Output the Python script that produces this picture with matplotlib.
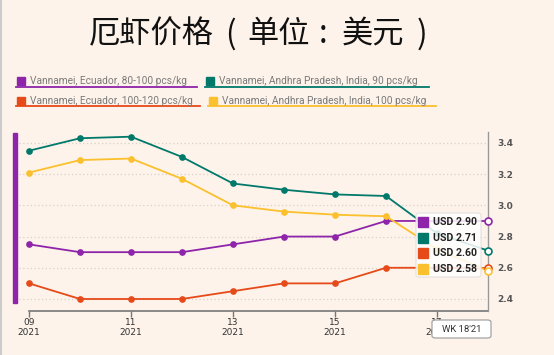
import matplotlib
matplotlib.use("Agg")
import matplotlib.pyplot as plt
from matplotlib.patches import FancyBboxPatch, Rectangle
from matplotlib.lines import Line2D

# Data (weekly prices, USD)
weeks = [9, 10, 11, 12, 13, 14, 15, 16, 17, 18]
ecuador_80_100 = [2.75, 2.70, 2.70, 2.70, 2.75, 2.80, 2.80, 2.90, 2.90, 2.90]
ecuador_100_120 = [2.50, 2.40, 2.40, 2.40, 2.45, 2.50, 2.50, 2.60, 2.60, 2.60]
india_90 = [3.35, 3.43, 3.44, 3.31, 3.14, 3.10, 3.07, 3.06, 2.82, 2.71]
india_100 = [3.21, 3.29, 3.30, 3.17, 3.00, 2.96, 2.94, 2.93, 2.72, 2.58]
labels = ["Vannamei, Ecuador, 80-100 pcs/kg",
          "Vannamei, Andhra Pradesh, India, 90 pcs/kg",
          "Vannamei, Ecuador, 100-120 pcs/kg",
          "Vannamei, Andhra Pradesh, India, 100 pcs/kg"]
series = [ecuador_80_100, india_90, ecuador_100_120, india_100]
colors = ["#8e24aa", "#00796b", "#e64a19", "#fbc02d"]
xtick_weeks = [9, 11, 13, 15, 17]
yticks = [2.4, 2.6, 2.8, 3.0, 3.2, 3.4]
# title pieces: 厄虾价格 ( 单位 : 美元 )
title_parts = ["厄虾价格", "(", "单位", ":", "美元", ")"]
hover_label = "WK 18'21"

W, H = 554, 355
bg = "#fdf3ea"


def px(x, y):
    # pixel (from top-left) -> figure fraction
    return x / W, 1 - y / H


fig = plt.figure(figsize=(W / 100, H / 100), dpi=100)
fig.patch.set_facecolor(bg)

# axes placement
ax = fig.add_axes([18.8 / W, 1 - 311 / H, (488 - 18.8) / W, (311 - 132) / H])
ax.set_facecolor(bg)
ax.set_xlim(8.8, 18)
ax.set_ylim(2.323, 3.47)

for s in ["top", "left", "bottom"]:
    ax.spines[s].set_visible(False)
ax.spines["right"].set_linestyle((0, (1, 1)))
ax.spines["right"].set_color("#999999")
ax.spines["right"].set_linewidth(1.0)

ax.yaxis.tick_right()
ax.set_yticks(yticks)
ax.set_yticklabels([f"{v:.1f}" for v in yticks])
ax.tick_params(axis="y", length=0, pad=7, labelsize=6.5, labelcolor="#555555")
for t in ax.get_yticklabels():
    t.set_fontweight("bold")
ax.grid(axis="y", linestyle=(0, (1, 2)), color="#d9d0c8", linewidth=0.9)
ax.set_axisbelow(True)

# bottom axis line from first week to last
ax.plot([weeks[0], weeks[-1]], [2.323, 2.323], color="#777777", lw=1.2,
        clip_on=False, zorder=2)
ax.set_xticks(xtick_weeks)
ax.set_xticklabels([f"{w:02d}\n2021" for w in xtick_weeks], linespacing=1.1)
ax.tick_params(axis="x", length=4, width=1, color="#777777", pad=1,
               labelsize=6.5, labelcolor="#333333")

for vals, c in zip(series, colors):
    ax.plot(weeks[:-1], vals[:-1], color=c, lw=1.3, marker="o", ms=3.8, zorder=3)
    ax.plot(weeks[-2:], vals[-2:], color=c, lw=1.3, zorder=3)
    ax.plot(weeks[-1], vals[-1], marker="o", ms=5, mfc="white", mec=c,
            mew=1.2, zorder=6, clip_on=False)

# title, placed piece by piece to keep the wide punctuation spacing
cjk = ["Noto Sans CJK SC", "DejaVu Sans"]
for part, xpos, ha in zip(title_parts, [89, 230, 247, 323, 342, 422],
                          ["left", "center", "left", "center", "left", "center"]):
    fig.text(*px(xpos, 34), part, fontsize=22.5, ha=ha, va="center",
             family=cjk, color="#111111")

# legend
leg_pos = [(17, 81, 197), (206, 81, 429), (17, 100.5, 200), (209, 100.5, 436)]
for (lx, ly, lend), lab, c in zip(leg_pos, labels, colors):
    fig.patches.append(Rectangle(px(lx, ly + 4), 8 / W, 8 / H, color=c,
                                 transform=fig.transFigure))
    fig.text(*px(lx + 13, ly), lab, fontsize=7.3, family="Roboto",
             color="#7a7a7a", ha="left", va="center")
    fig.lines.append(Line2D([(lx - 1) / W, lend / W], [1 - (ly + 5.5) / H] * 2,
                            color=c, lw=1.3, transform=fig.transFigure))

# left purple highlight bar and border
fig.patches.append(Rectangle(px(13, 303), 3.5 / W, 170 / H, color=colors[0],
                             transform=fig.transFigure))
fig.lines.append(Line2D([0.5 / W, 0.5 / W], [0, 1], color="#cccccc", lw=1.5,
                        transform=fig.transFigure))

# hover tooltip
fig.patches.append(FancyBboxPatch(px(416, 277), 65 / W, 64 / H,
                                  boxstyle="round,pad=0,rounding_size=0.006",
                                  fc="white", ec="#dddddd", lw=0.8, alpha=0.85,
                                  transform=fig.transFigure, zorder=10))
order = sorted(range(len(series)), key=lambda i: -series[i][-1])
for k, i in enumerate(order):
    ry = 222 + k * 15.7
    fig.patches.append(Rectangle(px(418, ry + 5), 10 / W, 10 / H,
                                 color=colors[i], transform=fig.transFigure,
                                 zorder=11))
    fig.text(*px(433, ry), f"USD {series[i][-1]:.2f}", fontsize=7.6,
             fontweight="bold", family="Roboto", color="#222222",
             ha="left", va="center", zorder=12)

# hover x label
fig.patches.append(FancyBboxPatch(px(432, 338), 59 / W, 18 / H,
                                  boxstyle="round,pad=0,rounding_size=0.006",
                                  fc="white", ec="#999999", lw=0.8,
                                  transform=fig.transFigure, zorder=10))
fig.text(*px(461.5, 329), hover_label, fontsize=6.8, family="Roboto",
         color="#333333", ha="center", va="center", zorder=11)

fig.savefig("out.png", dpi=100, facecolor=bg)
